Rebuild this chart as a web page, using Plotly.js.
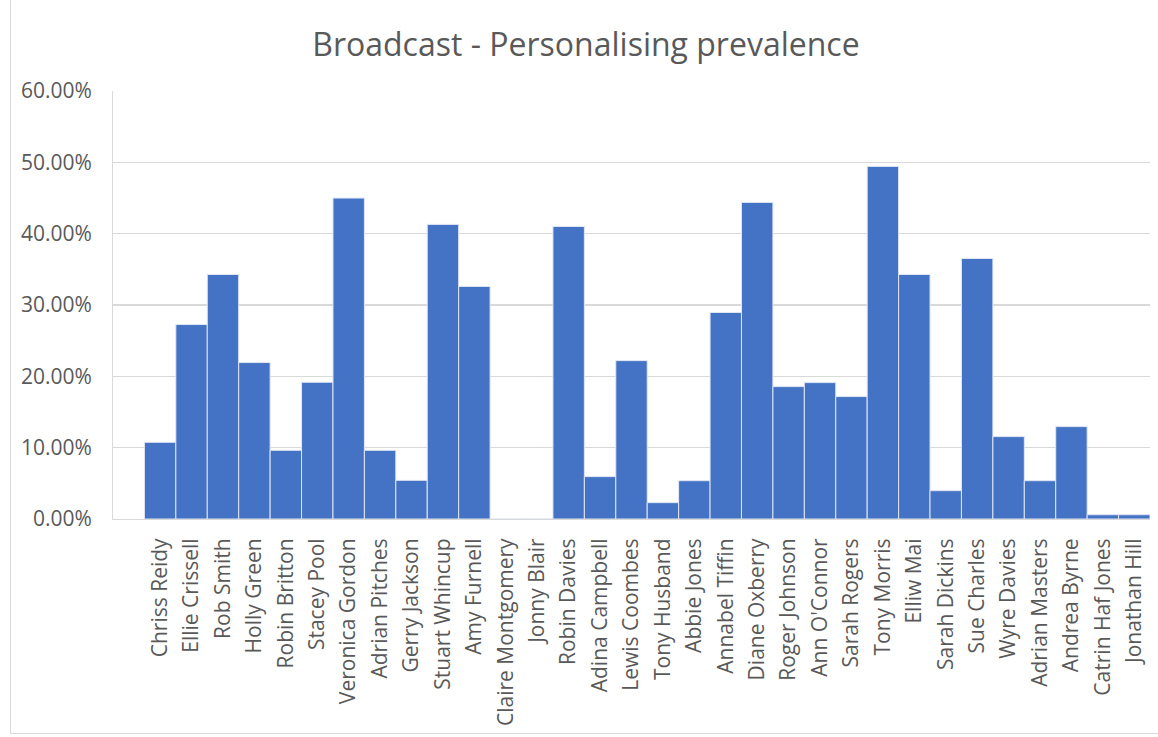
<!DOCTYPE html>
<html>
<head>
<meta charset="utf-8">
<script src="https://cdn.plot.ly/plotly-3.0.1.min.js"></script>
<style>
  html, body { margin: 0; padding: 0; background: #fff; }
  #wrap { position: relative; width: 1158px; height: 737px; }
  #chart { position: absolute; left: 0; top: 0; width: 1158px; height: 737px; }
  #frame { position: absolute; left: 10px; top: -2px; width: 1160px; height: 735px;
           border-left: 1px solid #d9d9d9; border-bottom: 1px solid #d9d9d9; pointer-events: none; }
</style>
</head>
<body>
<div id="wrap">
  <div id="chart"></div>
  <div id="frame"></div>
</div>
<script>
const presenters = ["Chriss Reidy","Ellie Crissell","Rob Smith","Holly Green","Robin Britton","Stacey Pool",
  "Veronica Gordon","Adrian Pitches","Gerry Jackson","Stuart Whincup","Amy Furnell","Claire Montgomery",
  "Jonny Blair","Robin Davies","Adina Campbell","Lewis Coombes","Tony Husband","Abbie Jones",
  "Annabel Tiffin","Diane Oxberry","Roger Johnson","Ann O'Connor","Sarah Rogers","Tony Morris",
  "Elliw Mai","Sarah Dickins","Sue Charles","Wyre Davies","Adrian Masters","Andrea Byrne",
  "Catrin Haf Jones","Jonathan Hill"];
const prevalence = [0.1075,0.2726,0.3428,0.2193,0.0963,0.1917,0.4499,0.0963,0.0542,0.4130,0.3260,0,
  0,0.4100,0.0594,0.2220,0.0229,0.0537,0.2895,0.4438,0.1856,0.1912,0.1716,0.4943,
  0.3428,0.0397,0.3652,0.1155,0.0537,0.1295,0.0060,0.0060];
const yTicks = [0,0.1,0.2,0.3,0.4,0.5,0.6];

const fontFam = '"Open Sans", "Noto Sans", sans-serif';
const txt = '#595959';

Plotly.newPlot('chart', [{
  type: 'bar',
  x: presenters,
  y: prevalence,
  marker: { color: '#4472C4', line: { color: '#dfe6f3', width: 1 } },
  hoverinfo: 'x+y'
}], {
  width: 1158, height: 737,
  margin: { l: 113, r: 8, t: 91, b: 218 },
  paper_bgcolor: '#fff', plot_bgcolor: '#fff',
  bargap: 0,
  showlegend: false,
  title: { text: 'Broadcast - Personalising prevalence', x: 0.506, xanchor: 'center', y: 0.939, yanchor: 'middle',
           font: { family: fontFam, size: 32, color: txt } },
  xaxis: {
    type: 'category',
    range: [-1.5, presenters.length - 0.5],
    tickangle: -90,
    tickfont: { family: fontFam, size: 21, color: txt },
    ticks: '', ticklabelstandoff: 10,
    showline: true, linecolor: '#d9d9d9', linewidth: 1,
    showgrid: false, fixedrange: true
  },
  yaxis: {
    range: [0, 0.6],
    tickvals: yTicks,
    tickformat: '.2%',
    tickfont: { family: fontFam, size: 21, color: txt },
    ticks: '', ticklabelstandoff: 16,
    showgrid: true, gridcolor: '#d9d9d9', gridwidth: 1.5,
    zeroline: false,
    showline: true, linecolor: '#d9d9d9', linewidth: 1,
    fixedrange: true
  }
}, { displayModeBar: false, staticPlot: true });
</script>
</body>
</html>
